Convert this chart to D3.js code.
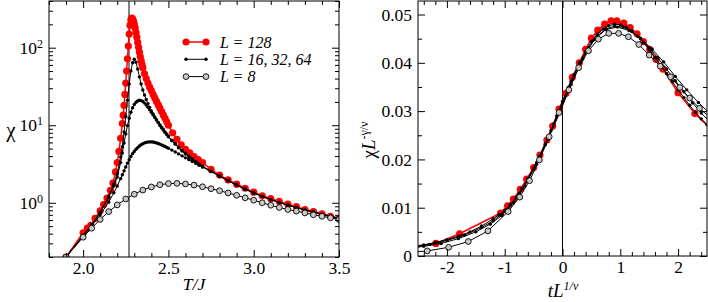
<!DOCTYPE html>
<html>
<head>
<meta charset="utf-8">
<script src="https://cdn.jsdelivr.net/npm/d3@7"></script>
<style>
  body { margin: 0; background: #fff; }
  text { font-family: "Liberation Serif", "Times New Roman", serif; fill: #000; }
</style>
</head>
<body>
<svg id="chart" width="708" height="302"></svg>
<script>
// ---- left panel: chi vs T/J ----
var tempsRed = [1.9, 2.0, 2.025, 2.045, 2.07, 2.1, 2.12, 2.14, 2.16, 2.175, 2.19, 2.2, 2.21, 2.22, 2.23, 2.235,
    2.24, 2.245, 2.25, 2.255, 2.26, 2.265, 2.27, 2.275, 2.28, 2.285, 2.29, 2.295, 2.3, 2.305, 2.31, 2.315, 2.32,
    2.325, 2.33, 2.335, 2.34, 2.345, 2.35, 2.36, 2.37, 2.38, 2.39, 2.4, 2.41, 2.42, 2.43, 2.44, 2.45, 2.46, 2.47,
    2.48, 2.49, 2.5, 2.525, 2.55, 2.575, 2.6, 2.625, 2.65, 2.675, 2.7, 2.75, 2.8, 2.85, 2.9, 2.95, 3.0, 3.05, 3.1,
    3.15, 3.2, 3.25, 3.3, 3.35, 3.4, 3.45, 3.5];
var chiRed = [0.2, 0.41, 0.47, 0.51, 0.63, 0.79, 0.95, 1.15, 1.45, 1.8, 2.5, 3.3, 4.6, 6.8, 10.5, 13.5,
    18, 25, 35, 50, 72, 105, 150, 195, 228, 240, 236, 222, 202, 180, 157, 136, 117,
    101, 88, 77, 68, 61, 55, 46, 40, 35, 31, 28, 25, 22.5, 20.3, 18.4, 16.6, 15, 13.6,
    12.3, 11.1, 10, 8.0, 6.6, 5.6, 4.9, 4.4, 3.95, 3.6, 3.3, 2.7, 2.28, 1.97, 1.74, 1.54, 1.37, 1.23, 1.13,
    1.04, 0.96, 0.89, 0.82, 0.77, 0.72, 0.67, 0.63];

var tempsBlack = [1.9, 2.0, 2.05, 2.1, 2.15, 2.18, 2.2, 2.22, 2.23, 2.24, 2.25, 2.26, 2.27, 2.28, 2.29, 2.3,
    2.31, 2.32, 2.33, 2.34, 2.35, 2.36, 2.37, 2.38, 2.39, 2.4, 2.41, 2.42, 2.43, 2.44, 2.45, 2.46, 2.47, 2.48,
    2.49, 2.5, 2.52, 2.54, 2.56, 2.58, 2.6, 2.62, 2.64, 2.66, 2.68, 2.7, 2.75, 2.8, 2.85, 2.9, 2.95, 3.0, 3.05,
    3.1, 3.15, 3.2, 3.25, 3.3, 3.35, 3.4, 3.45, 3.5];
var chi16 = [0.2, 0.37, 0.5, 0.7, 1.02, 1.35, 1.65, 2.05, 2.3, 2.58, 2.9, 3.25, 3.6, 3.95, 4.3, 4.6,
    4.9, 5.15, 5.4, 5.6, 5.78, 5.92, 6.02, 6.08, 6.1, 6.1, 6.07, 6.0, 5.92, 5.82, 5.7, 5.58, 5.45, 5.32,
    5.18, 5.05, 4.78, 4.52, 4.27, 4.03, 3.8, 3.6, 3.4, 3.22, 3.05, 2.9, 2.52, 2.2, 1.92, 1.7, 1.5, 1.34, 1.21,
    1.1, 1.01, 0.93, 0.87, 0.81, 0.76, 0.71, 0.67, 0.63];
var chi32 = [0.2, 0.38, 0.52, 0.75, 1.18, 1.65, 2.15, 3.3, 4.4, 5.9, 7.7, 9.9, 12.3, 14.7, 16.8, 18.5,
    19.8, 20.6, 21, 20.8, 20.2, 19.3, 18.2, 17, 15.8, 14.7, 13.6, 12.6, 11.7, 10.8, 10, 9.3, 8.7, 8.1,
    7.6, 7.1, 6.3, 5.7, 5.1, 4.65, 4.25, 3.9, 3.6, 3.35, 3.12, 2.92, 2.54, 2.21, 1.92, 1.7, 1.5, 1.34, 1.21,
    1.1, 1.01, 0.93, 0.87, 0.81, 0.76, 0.71, 0.67, 0.63];
var chi64 = [0.2, 0.38, 0.52, 0.76, 1.22, 1.75, 2.35, 3.9, 5.3, 8.2, 13, 21, 34, 50, 64, 71,
    65, 53, 42, 34, 28.5, 24.5, 21.5, 19, 17, 15.3, 14, 12.8, 11.8, 10.9, 10.1, 9.4, 8.8, 8.2,
    7.7, 7.2, 6.4, 5.8, 5.2, 4.75, 4.35, 4.0, 3.7, 3.42, 3.18, 2.97, 2.56, 2.22, 1.93, 1.7, 1.5, 1.34, 1.21,
    1.1, 1.01, 0.93, 0.87, 0.81, 0.76, 0.71, 0.67, 0.63];

var tempsL8 = [1.9, 2.0, 2.05, 2.1, 2.15, 2.2, 2.25, 2.3, 2.35, 2.4, 2.45, 2.5, 2.55, 2.6, 2.65, 2.7,
    2.75, 2.8, 2.85, 2.9, 2.95, 3.0, 3.05, 3.1, 3.15, 3.2, 3.25, 3.3, 3.35, 3.4, 3.45, 3.5];
var chiL8 = [0.2, 0.36, 0.47, 0.61, 0.77, 0.94, 1.12, 1.29, 1.46, 1.6, 1.71, 1.77, 1.78, 1.75, 1.69, 1.61,
    1.52, 1.43, 1.34, 1.25, 1.16, 1.08, 1.0, 0.93, 0.87, 0.82, 0.78, 0.74, 0.7, 0.67, 0.64, 0.61];

var Tc = 2.269;

// ---- right panel: chi L^(-gamma/nu) vs t L^(1/nu) ----
var xRed = [-2.75, -2.19, -1.78, -1.07, -0.95, -0.85, -0.73, -0.62, -0.5, -0.39, -0.27, -0.17, -0.06, 0.06,
    0.17, 0.29, 0.4, 0.5, 0.61, 0.73, 0.84, 0.94, 1.06, 1.17, 1.29, 1.4, 1.51, 1.62, 1.74, 2.0, 2.29, 2.7];
var yRed = [0.0017, 0.0026, 0.0046, 0.0089, 0.0104, 0.0118, 0.0138, 0.0159, 0.0183, 0.0209, 0.024, 0.0269,
    0.0304, 0.0337, 0.037, 0.04, 0.0428, 0.0451, 0.0468, 0.048, 0.0487, 0.0487, 0.0482, 0.0473, 0.046, 0.0444,
    0.0428, 0.0407, 0.0387, 0.0338, 0.0295, 0.0248];

var x64 = [-2.6, -2.4, -2.2, -2.0, -1.8, -1.6, -1.4, -1.2, -1.1, -1.0, -0.9, -0.8, -0.7, -0.6, -0.5, -0.4,
    -0.3, -0.2, -0.1, 0.0, 0.1, 0.2, 0.3, 0.4, 0.5, 0.6, 0.7, 0.8, 0.9, 1.0, 1.1, 1.2, 1.3, 1.4, 1.5, 1.6,
    1.7, 1.8, 1.9, 2.0, 2.1, 2.2, 2.3, 2.4, 2.5, 2.6];
var y64 = [0.0019, 0.0023, 0.0028, 0.0034, 0.0041, 0.005, 0.0062, 0.0077, 0.0085, 0.0095, 0.0107, 0.0122,
    0.014, 0.016, 0.0182, 0.0206, 0.0232, 0.026, 0.029, 0.032, 0.0349, 0.0376, 0.0401, 0.0424, 0.0444, 0.0459,
    0.047, 0.0477, 0.048, 0.0479, 0.0474, 0.0466, 0.0455, 0.0442, 0.0427, 0.0411, 0.0395, 0.0378, 0.0361,
    0.0344, 0.0328, 0.0312, 0.0297, 0.0284, 0.0272, 0.0261];

var x32 = [-2.6, -2.3, -2.0, -1.7, -1.4, -1.2, -1.05, -0.9, -0.75, -0.6, -0.45, -0.3, -0.15, 0.0, 0.15, 0.3,
    0.45, 0.6, 0.75, 0.9, 1.05, 1.2, 1.35, 1.5, 1.65, 1.8, 1.95, 2.1, 2.25, 2.4, 2.6];
var y32 = [0.0018, 0.0024, 0.0032, 0.0043, 0.0059, 0.0073, 0.0087, 0.0105, 0.013, 0.0159, 0.0193, 0.023,
    0.0274, 0.0319, 0.0362, 0.0399, 0.0431, 0.0455, 0.047, 0.0476, 0.0474, 0.0465, 0.045, 0.0431, 0.041,
    0.0387, 0.0363, 0.034, 0.0317, 0.0296, 0.0271];

var x16 = [-2.7, -2.4, -2.1, -1.8, -1.5, -1.25, -1.05, -0.85, -0.65, -0.45, -0.25, -0.05, 0.15, 0.35, 0.55,
    0.75, 0.95, 1.15, 1.35, 1.55, 1.75, 1.95, 2.15, 2.35, 2.55, 2.75];
var y16 = [0.0015, 0.002, 0.0026, 0.0036, 0.005, 0.0066, 0.0084, 0.011, 0.0145, 0.019, 0.0242, 0.0296,
    0.0355, 0.0408, 0.0448, 0.0469, 0.0474, 0.0467, 0.0451, 0.0428, 0.0402, 0.0372, 0.0344, 0.0318, 0.0295,
    0.0274];

var x8 = [-2.7, -2.34, -1.97, -1.63, -1.29, -0.94, -0.74, -0.57, -0.4, -0.23, -0.06, 0.11, 0.28, 0.45, 0.62,
    0.8, 0.97, 1.14, 1.32, 1.5, 1.69, 1.87, 2.03, 2.2, 2.37, 2.55];
var y8 = [0.0007, 0.00105, 0.0018, 0.003, 0.0052, 0.0092, 0.0122, 0.0156, 0.0199, 0.0247, 0.0297, 0.0344,
    0.039, 0.0425, 0.0449, 0.0461, 0.0461, 0.0454, 0.0438, 0.0416, 0.0393, 0.0371, 0.0349, 0.0327, 0.0306,
    0.0287];

// tick labels
var leftXTicks = [2.0, 2.5, 3.0, 3.5];
var leftYTicks = [1, 10, 100];
var rightXTicks = [-2, -1, 0, 1, 2];
var rightYTicks = [0, 0.01, 0.02, 0.03, 0.04, 0.05];
var legendLabels = ["L = 128", "L = 16, 32, 64", "L = 8"];

// marker styles
var styleRed = {stroke: "#ff0000", lw: 1.5, r: 3.6, fill: "#ff0000", ms: "none", msw: 0};
var styleBlack = {stroke: "#000", lw: 1, r: 1.7, fill: "#000", ms: "none", msw: 0};
var styleL8 = {stroke: "#000", lw: 1, r: 2.9, fill: "#c8c8c8", ms: "#000", msw: 0.9};

var svg = d3.select("#chart");

function zip(xs, ys) {
    return xs.map(function (d, i) { return [d, ys[i]]; });
}

function drawSeries(g, x, y, data, s) {
    var line = d3.line()
        .x(function (d) { return x(d[0]); })
        .y(function (d) { return y(d[1]); });
    g.append("path")
        .datum(data)
        .attr("d", line)
        .attr("fill", "none")
        .attr("stroke", s.stroke)
        .attr("stroke-width", s.lw);
    g.selectAll(null)
        .data(data)
        .enter().append("circle")
        .attr("cx", function (d) { return x(d[0]); })
        .attr("cy", function (d) { return y(d[1]); })
        .attr("r", s.r)
        .attr("fill", s.fill)
        .attr("stroke", s.ms)
        .attr("stroke-width", s.msw);
}

// frame with inward ticks on all four sides
function frame(x, y, xMajor, xMinor, yMajor, yMinor) {
    var x0 = x.range()[0], x1 = x.range()[1];
    var y0 = y.range()[0], y1 = y.range()[1];
    var g = svg.append("g");

    function put(axis, tx, ty) {
        var a = g.append("g").attr("transform", "translate(" + tx + "," + ty + ")").call(axis);
        a.select(".domain").remove();
        a.selectAll("line").attr("stroke", "#000");
        return a;
    }
    var gx = put(d3.axisBottom(x).tickValues(xMajor).tickSize(-7).tickPadding(5), 0, y0);
    put(d3.axisBottom(x).tickValues(xMinor).tickSize(-4).tickFormat(""), 0, y0);
    put(d3.axisTop(x).tickValues(xMajor).tickSize(-7).tickFormat(""), 0, y1);
    put(d3.axisTop(x).tickValues(xMinor).tickSize(-4).tickFormat(""), 0, y1);
    var gy = put(d3.axisLeft(y).tickValues(yMajor).tickSize(-7).tickPadding(6), x0, 0);
    put(d3.axisLeft(y).tickValues(yMinor).tickSize(-4).tickFormat(""), x0, 0);
    put(d3.axisRight(y).tickValues(yMajor).tickSize(-7).tickFormat(""), x1, 0);
    put(d3.axisRight(y).tickValues(yMinor).tickSize(-4).tickFormat(""), x1, 0);

    g.append("rect")
        .attr("x", x0).attr("y", y1)
        .attr("width", x1 - x0).attr("height", y0 - y1)
        .attr("fill", "none").attr("stroke", "#000").attr("stroke-width", 1);

    g.selectAll("g").attr("font-family", "Liberation Serif");
    g.selectAll(".tick text").attr("font-size", 17.5);
    return {gx: gx, gy: gy};
}

function clip(id, x, y) {
    svg.append("clipPath").attr("id", id).append("rect")
        .attr("x", x.range()[0]).attr("y", y.range()[1])
        .attr("width", x.range()[1] - x.range()[0])
        .attr("height", y.range()[0] - y.range()[1]);
    return svg.append("g").attr("clip-path", "url(#" + id + ")");
}

// ===== left panel =====
var xL = d3.scaleLinear().domain([1.8, 3.5]).range([49, 339]);
var yL = d3.scaleLog().domain([0.2, 400]).range([257, 1]);

var gL = clip("clipL", xL, yL);
gL.append("line")
    .attr("x1", xL(Tc)).attr("x2", xL(Tc))
    .attr("y1", yL.range()[0]).attr("y2", yL.range()[1])
    .attr("stroke", "#333").attr("stroke-width", 1.2);

drawSeries(gL, xL, yL, zip(tempsRed, chiRed), styleRed);
drawSeries(gL, xL, yL, zip(tempsBlack, chi16), styleBlack);
drawSeries(gL, xL, yL, zip(tempsBlack, chi32), styleBlack);
drawSeries(gL, xL, yL, zip(tempsBlack, chi64), styleBlack);
drawSeries(gL, xL, yL, zip(tempsL8, chiL8), styleL8);

var leftXMinor = d3.range(18, 36).map(function (d) { return d / 10; })
    .filter(function (d) { return leftXTicks.indexOf(d) < 0; });
var leftYMinor = [];
[0.1, 1, 10, 100].forEach(function (dec) {
    for (var k = 2; k <= 9; k++) {
        var v = dec * k;
        if (v >= 0.2 && v <= 400) leftYMinor.push(v);
    }
});
var axL = frame(xL, yL, leftXTicks, leftXMinor, leftYTicks, leftYMinor);
axL.gx.selectAll(".tick text").text(function (d) { return d3.format(".1f")(d); });
axL.gy.selectAll(".tick text").text(null).each(function (d) {
    var t = d3.select(this);
    t.append("tspan").text("10");
    t.append("tspan").attr("dy", "-0.5em").attr("font-size", 12)
        .text(Math.round(Math.log10(d)));
});

svg.append("text")
    .attr("x", 11).attr("y", 137)
    .attr("text-anchor", "middle")
    .attr("font-size", 21)
    .text("\u03c7");

svg.append("text")
    .attr("x", 194).attr("y", 290)
    .attr("text-anchor", "middle")
    .attr("font-size", 17.5)
    .attr("font-style", "italic")
    .text("T/J");

// legend
var legend = svg.append("g");
var legendStyles = [styleRed, styleBlack, styleL8];
legendStyles.forEach(function (s, i) {
    var ly = 42 + i * 17.3;
    drawSeries(legend, function (d) { return d; }, function () { return ly; }, [[186, 0], [206, 0]], s);
    legend.append("text")
        .attr("x", 220).attr("y", ly)
        .attr("dy", "0.35em")
        .attr("font-size", 16)
        .attr("font-style", "italic")
        .text(legendLabels[i]);
});

// ===== right panel =====
var xR = d3.scaleLinear().domain([-2.5, 2.5]).range([418, 707]);
var yR = d3.scaleLinear().domain([0, 0.0528]).range([256, 1]);

var gR = clip("clipR", xR, yR);
gR.append("line")
    .attr("x1", xR(0)).attr("x2", xR(0))
    .attr("y1", yR.range()[0]).attr("y2", yR.range()[1])
    .attr("stroke", "#000").attr("stroke-width", 1);

drawSeries(gR, xR, yR, zip(xRed, yRed), styleRed);
drawSeries(gR, xR, yR, zip(x16, y16), styleBlack);
drawSeries(gR, xR, yR, zip(x32, y32), styleBlack);
drawSeries(gR, xR, yR, zip(x64, y64), styleBlack);
drawSeries(gR, xR, yR, zip(x8, y8), styleL8);

var rightXMinor = d3.range(-12, 13).map(function (d) { return d / 5; })
    .filter(function (d) { return rightXTicks.indexOf(d) < 0; });
var rightYMinor = [0.005, 0.015, 0.025, 0.035, 0.045];
var axR = frame(xR, yR, rightXTicks, rightXMinor, rightYTicks, rightYMinor);
axR.gx.selectAll(".tick text").text(function (d) { return d; });
axR.gy.selectAll(".tick text").text(function (d) { return d === 0 ? "0" : d3.format(".2f")(d); });

var yt = svg.append("text")
    .attr("transform", "translate(375,140) rotate(-90)")
    .attr("text-anchor", "middle")
    .attr("font-size", 19);
yt.append("tspan").text("\u03c7");
yt.append("tspan").attr("font-style", "italic").text("L");
yt.append("tspan").attr("dy", "-0.6em").attr("font-size", 12).text("-\u03b3/\u03bd");

var xt = svg.append("text")
    .attr("x", 563).attr("y", 297)
    .attr("text-anchor", "middle")
    .attr("font-size", 19)
    .attr("font-style", "italic");
xt.append("tspan").text("tL");
xt.append("tspan").attr("dy", "-0.6em").attr("font-size", 12).text("1/\u03bd");
</script>
</body>
</html>
